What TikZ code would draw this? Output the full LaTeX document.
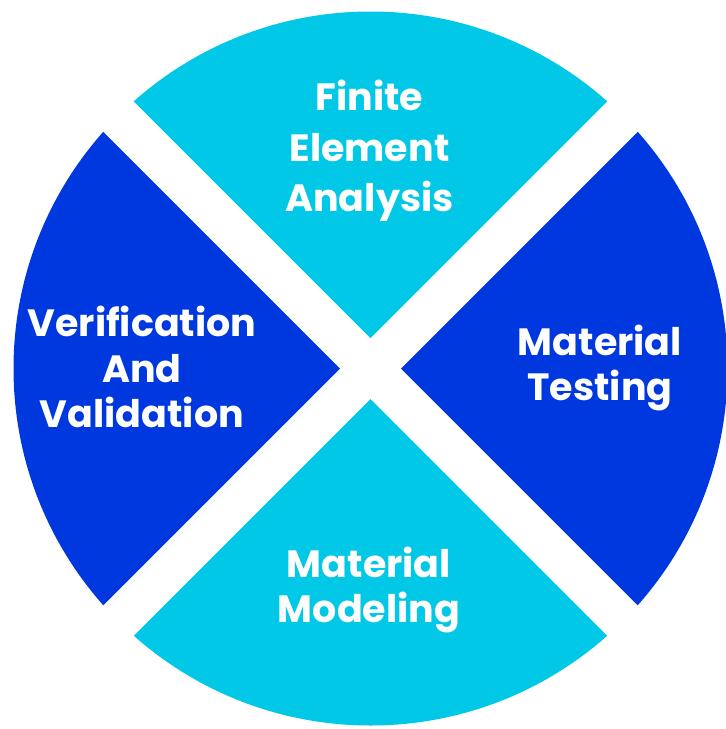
\documentclass[tikz,border=0pt]{standalone}
\usepackage{fontspec}
\setmainfont{Poppins}
\definecolor{segcyan}{HTML}{00C8E6}
\definecolor{segblue}{HTML}{0038E0}
\begin{document}
\begin{tikzpicture}[x=1pt,y=1pt,
  seglabel/.style={text=white, align=center, inner sep=0pt,
    font=\bfseries\fontsize{38}{45.5}\selectfont},
  toplabel/.style={seglabel, font=\bfseries\fontsize{38}{50.5}\selectfont}]
\useasboundingbox (0,0) rectangle (726,-729);
% circle centre, radius and the offset of each wedge tip from the centre
\def\cx{370.5}\def\cy{-368.5}\def\rr{357}\def\dd{30.5}\def\ll{420}
\begin{scope}
  \clip (\cx,\cy) circle (\rr);
  % top wedge
  \fill[segcyan] (\cx,\cy+\dd) -- ++(-\ll,\ll) -- ++(2*\ll,0) -- cycle;
  % bottom wedge
  \fill[segcyan] (\cx,\cy-\dd) -- ++(-\ll,-\ll) -- ++(2*\ll,0) -- cycle;
  % left wedge
  \fill[segblue] (\cx-\dd,\cy) -- ++(-\ll,\ll) -- ++(0,-2*\ll) -- cycle;
  % right wedge
  \fill[segblue] (\cx+\dd,\cy) -- ++(\ll,\ll) -- ++(0,-2*\ll) -- cycle;
\end{scope}
\node[toplabel] (fea) at (369.5,-151) {Finite\\Element\\Analysis};
\node[seglabel] (vv) at (142,-367) {Verification\\And\\Validation};
\node[seglabel] (mt) at (600,-368) {Material\\Testing};
\node[seglabel] (mm) at (369,-590) {Material\\Modeling};
\end{tikzpicture}
\end{document}
